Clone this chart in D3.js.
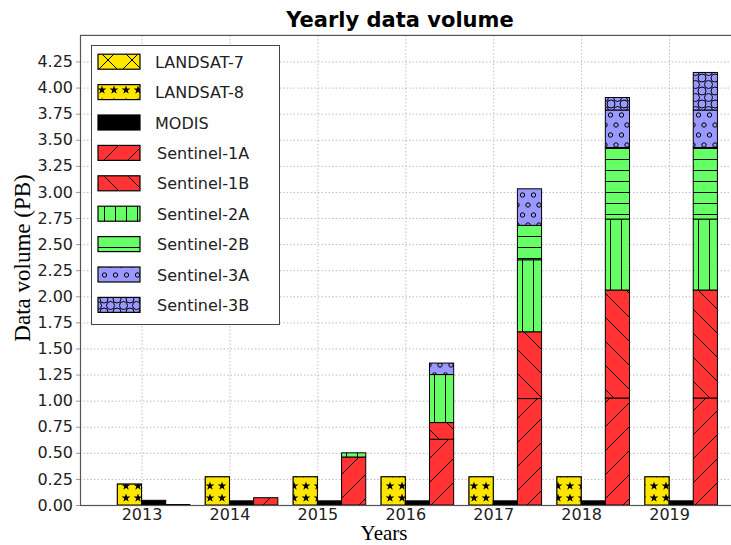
<!DOCTYPE html>
<html><head><meta charset="utf-8">
<script src="https://cdn.jsdelivr.net/npm/d3@7"></script>
<style>body{margin:0;background:#fff}svg{display:block}</style>
</head><body>
<svg id="chart" width="731" height="545"></svg>
<script>
const years = [2013, 2014, 2015, 2016, 2017, 2018, 2019];
const landsat7 = [0.20, 0.27, 0.27, 0.27, 0.27, 0.27, 0.27];
const landsat8 = [0.20, 0.27, 0.27, 0.27, 0.27, 0.27, 0.27];
const modis = [0.045, 0.04, 0.04, 0.04, 0.04, 0.04, 0.04];
const sentinel1A = [0, 0.07, 0.46, 0.63, 1.02, 1.025, 1.025];
const sentinel1B = [0, 0, 0, 0.16, 0.64, 1.035, 1.035];
const sentinel2A = [0, 0, 0.04, 0.46, 0.69, 0.68, 0.68];
const sentinel2B = [0, 0, 0, 0, 0.33, 0.685, 0.685];
const sentinel3A = [0, 0, 0, 0.11, 0.35, 0.36, 0.36];
const sentinel3B = [0, 0, 0, 0, 0, 0.12, 0.36];
const yTicks = [0, 0.25, 0.5, 0.75, 1.0, 1.25, 1.5, 1.75, 2.0, 2.25, 2.5, 2.75, 3.0, 3.25, 3.5, 3.75, 4.0, 4.25];
const seriesNames = ["LANDSAT-7","LANDSAT-8","MODIS","Sentinel-1A","Sentinel-1B","Sentinel-2A","Sentinel-2B","Sentinel-3A","Sentinel-3B"];

const YEL = "#ffe600", RED = "#ff3333", GRN = "#66ff66", BLU = "#9999ff";
const svg = d3.select("#chart");
const L = 80, R = 735, T = 35.4, B = 505;
const x = d3.scaleLinear().domain([2012.3, 2019.75]).range([L, R]);
const y = d3.scaleLinear().domain([0, 4.5]).range([B, T]);
const w = 0.275;

// patterns
const defs = svg.append("defs");
function pat(id, size, h, color, draw){
  const p = defs.append("pattern").attr("id", id).attr("patternUnits","userSpaceOnUse")
    .attr("width", size).attr("height", h);
  p.append("rect").attr("width", size).attr("height", h).attr("fill", color);
  draw(p);
}
const ln = (p, x1,y1,x2,y2) => p.append("line").attr("x1",x1).attr("y1",y1).attr("x2",x2).attr("y2",y2).attr("stroke","#000").attr("stroke-width",1);
pat("pL7", 24, 24, YEL, p => { ln(p,0,0,24,24); ln(p,0,24,24,0); });
pat("pL8", 12, 12, YEL, p => {
  const star = d3.symbol().type(d3.symbolStar).size(24)();
  p.append("path").attr("d", star).attr("transform","translate(6,6)").attr("fill","#000");
});
pat("pS1A", 24, 24, RED, p => { ln(p,0,24,24,0); ln(p,-2,2,2,-2); ln(p,22,26,26,22); });
pat("pS1B", 24, 24, RED, p => { ln(p,0,0,24,24); ln(p,-2,22,2,26); ln(p,22,-2,26,2); });
pat("pS2A", 11, 11, GRN, p => { ln(p,5.5,0,5.5,11); });
pat("pS2B", 11, 11, GRN, p => { ln(p,0,5.5,11,5.5); });
pat("pS3A", 22, 20, BLU, p => {
  [[0,5],[11,5],[22,5],[5.5,15],[16.5,15]].forEach(c => p.append("circle").attr("cx",c[0]).attr("cy",c[1]).attr("r",2.2).attr("fill","none").attr("stroke","#000").attr("stroke-width",1));
});
pat("pS3B", 13, 13, BLU, p => {
  [[0,0],[13,0],[6.5,6.5],[0,13],[13,13]].forEach(c => p.append("circle").attr("cx",c[0]).attr("cy",c[1]).attr("r",4).attr("fill","none").attr("stroke","#000").attr("stroke-width",1));
});
const fills = ["url(#pL7)","url(#pL8)","#000","url(#pS1A)","url(#pS1B)","url(#pS2A)","url(#pS2B)","url(#pS3A)","url(#pS3B)"];

// grid
const g = svg.append("g");
g.selectAll(".hg").data(yTicks).join("line")
  .attr("x1", L).attr("x2", R).attr("y1", d => y(d)+0.5).attr("y2", d => y(d)+0.5)
  .attr("stroke", "#bdbdbd").attr("stroke-dasharray", "1.5,2");
g.selectAll(".vg").data(years).join("line")
  .attr("x1", d => x(d)+0.5).attr("x2", d => x(d)+0.5).attr("y1", T).attr("y2", B)
  .attr("stroke", "#bdbdbd").attr("stroke-dasharray", "1.5,2");

// bars
const bars = svg.append("g");
function rect(x0, v0, v1, fill){
  bars.append("rect").attr("x", x(x0)).attr("width", x(x0+w)-x(x0))
    .attr("y", Math.min(y(v1), y(v0)-0.5)).attr("height", Math.max(0.5, y(v0)-y(v1)))
    .attr("fill", fill).attr("stroke","#000").attr("stroke-width",1);
}
years.forEach((yr, i) => {
  rect(yr - w, 0, landsat7[i], fills[0]);
  rect(yr - w, 0, landsat8[i], fills[1]);
  rect(yr, 0, modis[i], fills[2]);
  const stack = [sentinel1A, sentinel1B, sentinel2A, sentinel2B, sentinel3A, sentinel3B];
  let base = 0;
  stack.forEach((s, k) => {
    if (s[i] > 0 || k === 0) rect(yr + w, base, base + s[i], fills[3+k]);
    base += s[i];
  });
});

// axes frame
svg.append("rect").attr("x", L+0.5).attr("y", T).attr("width", R-L).attr("height", B-T+0.5)
  .attr("fill","none").attr("stroke","#555").attr("stroke-width",1.2);

// y ticks
const yAxis = svg.append("g").attr("transform", `translate(${L},0)`)
  .call(d3.axisLeft(y).tickValues(yTicks).tickFormat(d3.format(".2f")).tickSize(4).tickPadding(3));
yAxis.select(".domain").remove();
yAxis.selectAll("line").attr("stroke","#999");
yAxis.selectAll("text").attr("font-family","DejaVu Sans").attr("font-size","16px").attr("fill","#222");

const xAxis = svg.append("g").attr("transform", `translate(0,${B})`)
  .call(d3.axisBottom(x).tickValues(years).tickFormat(d3.format("d")).tickSize(0).tickPadding(4));
xAxis.select(".domain").remove();
xAxis.selectAll("text").attr("font-family","DejaVu Sans").attr("font-size","16px").attr("fill","#222");

// titles
svg.append("text").attr("x", 400).attr("y", 27).attr("text-anchor","middle")
  .attr("font-family","DejaVu Sans").attr("font-weight","bold").attr("font-size","21px").text("Yearly data volume");
svg.append("text").attr("x", 384).attr("y", 540).attr("text-anchor","middle")
  .attr("font-family","Liberation Serif").attr("font-size","21px").text("Years");
svg.append("text").attr("transform","translate(30,258) rotate(-90)").attr("text-anchor","middle")
  .attr("font-family","Liberation Serif").attr("font-size","23px").text("Data volume (PB)");

// legend
const lg = svg.append("g");
lg.append("rect").attr("x",91.5).attr("y",45.5).attr("width",188).attr("height",279)
  .attr("fill","#fff").attr("stroke","#444").attr("stroke-width",1);
seriesNames.forEach((n, i) => {
  const cy = 61.7 + i*30.4;
  lg.append("rect").attr("x",98).attr("y",cy-7.5).attr("width",42).attr("height",15)
    .attr("fill", fills[i]).attr("stroke","#000").attr("stroke-width",1.2);
  lg.append("text").attr("x", i < 3 ? 155 : 157).attr("y", cy+6).attr("font-family","DejaVu Sans")
    .attr("font-size","16px").attr("fill","#222").text(n);
});
</script>
</body></html>
